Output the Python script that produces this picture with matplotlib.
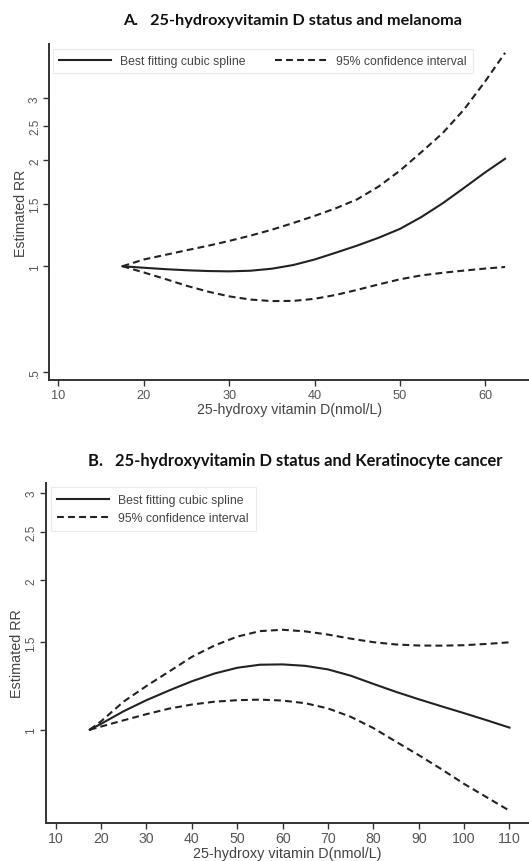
import matplotlib
matplotlib.use("Agg")
import matplotlib.pyplot as plt
import numpy as np

plt.rcParams['font.family'] = ['Liberation Sans', 'DejaVu Sans']

# --- panel A: melanoma ---
xa = [17.5, 20, 22.5, 25, 27.5, 30, 32.5, 35, 37.5, 40, 42.5, 45, 47.5,
      50, 52.5, 55, 57.5, 60, 62.3]
rr_a = [1.0, 0.99, 0.981, 0.974, 0.969, 0.967, 0.971, 0.984, 1.008, 1.045,
        1.093, 1.145, 1.205, 1.277, 1.38, 1.51, 1.67, 1.85, 2.02]
up_a = [1.0, 1.045, 1.077, 1.11, 1.143, 1.18, 1.222, 1.27, 1.327, 1.39,
        1.462, 1.55, 1.685, 1.87, 2.11, 2.39, 2.79, 3.36, 4.04]
lo_a = [1.0, 0.96, 0.92, 0.88, 0.847, 0.821, 0.804, 0.796, 0.797, 0.808,
        0.829, 0.857, 0.888, 0.918, 0.942, 0.958, 0.972, 0.985, 0.995]

# --- panel B: keratinocyte cancer ---
xb = [17.5, 20, 25, 30, 35, 40, 45, 50, 55, 60, 65, 70, 75, 80, 85, 90,
      95, 100, 105, 110]
rr_b = [1.0, 1.028, 1.09, 1.147, 1.20, 1.252, 1.298, 1.333, 1.352, 1.354,
        1.345, 1.323, 1.285, 1.237, 1.192, 1.152, 1.115, 1.08, 1.045, 1.01]
up_b = [1.0, 1.04, 1.14, 1.225, 1.31, 1.402, 1.478, 1.54, 1.58, 1.59,
        1.578, 1.555, 1.526, 1.501, 1.485, 1.478, 1.477, 1.48, 1.489, 1.50]
lo_b = [1.0, 1.015, 1.045, 1.075, 1.103, 1.124, 1.139, 1.147, 1.15, 1.145,
        1.131, 1.104, 1.062, 1.008, 0.946, 0.889, 0.833, 0.778, 0.731, 0.687]

yticks_a = [0.5, 1, 1.5, 2, 2.5, 3]
ylabels_a = ['.5', '1', '1.5', '2', '2.5', '3']
yticks_b = [1, 1.5, 2, 2.5, 3]
ylabels_b = ['1', '1.5', '2', '2.5', '3']
xticks_a = [10, 20, 30, 40, 50, 60]
xticks_b = [10, 20, 30, 40, 50, 60, 70, 80, 90, 100, 110]

LINE = '#222222'
DASH = (0, (3.3, 2.0))

fig = plt.figure(figsize=(5.29, 8.62), dpi=100)


def style_axes(ax, xticks, yticks, ylabels, xtick_size, lab_size, xpad, lpad):
    ax.set_yscale('log')
    for s in ['top', 'right']:
        ax.spines[s].set_visible(False)
    for s in ['left', 'bottom']:
        ax.spines[s].set_color('#333333')
        ax.spines[s].set_linewidth(1.4)
    ax.set_xticks(xticks)
    ax.set_xticklabels([str(t) for t in xticks])
    ax.yaxis.set_major_locator(matplotlib.ticker.FixedLocator(yticks))
    ax.yaxis.set_minor_locator(matplotlib.ticker.NullLocator())
    ax.set_yticklabels(ylabels)
    ax.tick_params(axis='both', direction='out', length=4, width=1.0,
                   color='#333333', labelcolor='#555555')
    ax.tick_params(axis='x', labelsize=xtick_size, pad=xpad)
    ax.tick_params(axis='y', labelsize=8.5, pad=2)
    for lbl in ax.get_yticklabels():
        lbl.set_rotation(90)
        lbl.set_va('center')
    ax.set_ylabel('Estimated RR', fontsize=lab_size, color='#444444', labelpad=1)
    ax.set_xlabel('25-hydroxy vitamin D(nmol/L)', fontsize=lab_size,
                  color='#444444', labelpad=lpad)


def draw_curves(ax, x, rr, up, lo):
    ax.plot(x, rr, color=LINE, lw=1.5, label='Best fitting cubic spline')
    ax.plot(x, up, color=LINE, lw=1.5, linestyle=DASH,
            label='95% confidence interval')
    ax.plot(x, lo, color=LINE, lw=1.5, linestyle=DASH)


def style_legend(leg):
    leg.get_frame().set_linewidth(0.8)
    for t in leg.get_texts():
        t.set_color('#444444')


# panel A
axa = fig.add_axes([0.0932, 0.558, 0.9068, 0.3898])
draw_curves(axa, xa, rr_a, up_a, lo_a)
axa.set_xlim(8.93, 65.1)
axa.set_ylim(0.475, 4.28)
style_axes(axa, xticks_a, yticks_a, ylabels_a, 9.2, 10.2, 2.5, 1.0)
lega = axa.legend(loc='upper left', bbox_to_anchor=(0.0083, 0.985),
                  borderaxespad=0, ncol=2, fontsize=8.85, frameon=True,
                  fancybox=False, edgecolor='#e6e6e6', handlelength=4.2,
                  handletextpad=0.75, columnspacing=2.4, borderpad=0.5)
style_legend(lega)

fig.text(0.5533, 0.9758, 'A.   25-hydroxyvitamin D status and melanoma',
         ha='center', va='center', fontsize=11.7, fontweight='bold',
         family='Lato', color='#111111')

# panel B
axb = fig.add_axes([0.0864, 0.0441, 0.9136, 0.3944])
draw_curves(axb, xb, rr_b, up_b, lo_b)
axb.set_xlim(7.8, 114.3)
axb.set_ylim(0.649, 3.14)
style_axes(axb, xticks_b, yticks_b, ylabels_b, 10.2, 10.4, 2.0, 0.5)
legb = axb.legend(loc='upper left', bbox_to_anchor=(0.0103, 0.987),
                  borderaxespad=0, ncol=1, fontsize=8.85, frameon=True,
                  fancybox=False, edgecolor='#e6e6e6', handlelength=4.2,
                  handletextpad=0.75, labelspacing=0.5, borderpad=0.55)
style_legend(legb)

fig.text(0.5575, 0.4652, 'B.   25-hydroxyvitamin D status and Keratinocyte cancer',
         ha='center', va='center', fontsize=11.9, fontweight='bold',
         family='Lato', color='#111111')

fig.savefig('out.png', dpi=100)
